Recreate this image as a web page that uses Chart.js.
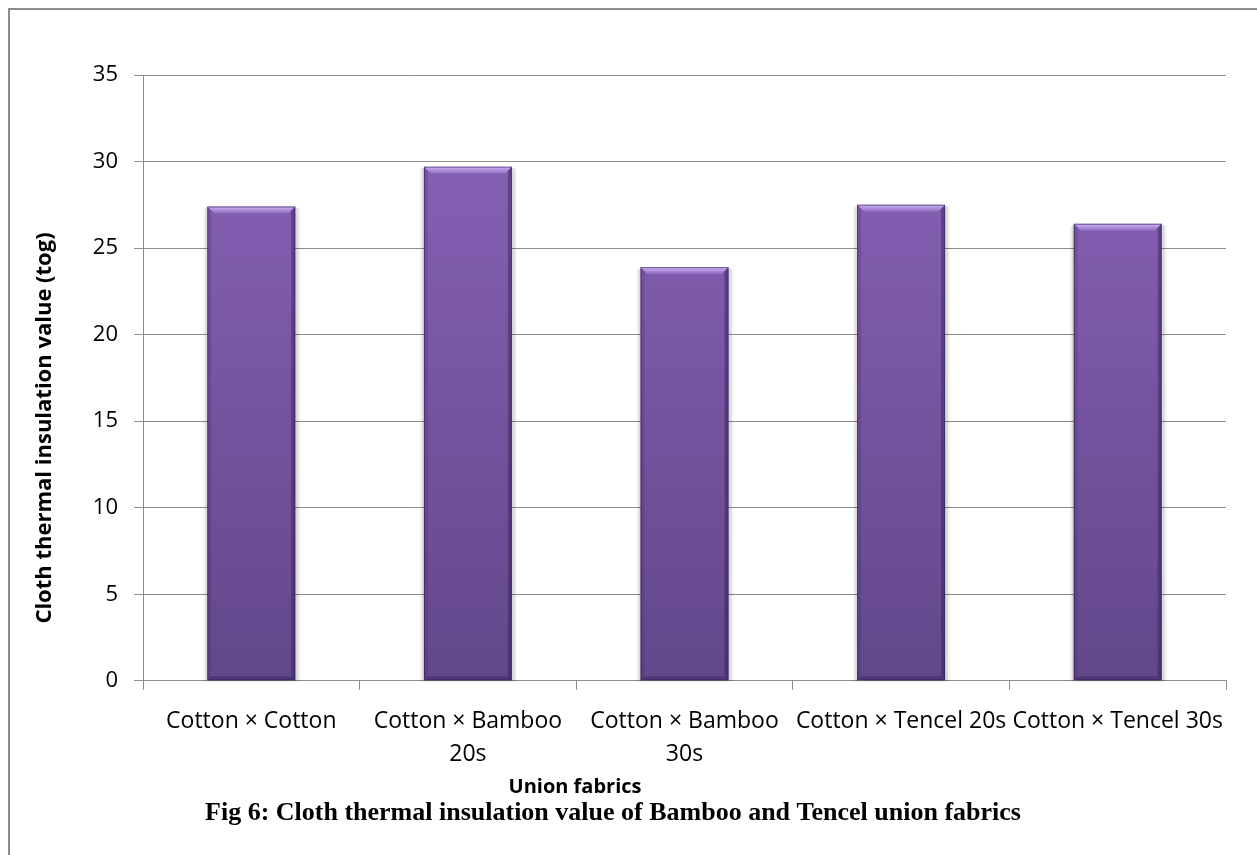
<!DOCTYPE html>
<html>
<head>
<meta charset="utf-8">
<script src="https://cdn.jsdelivr.net/npm/chart.js@4"></script>
<style>
  html, body { margin: 0; padding: 0; background: #fff; }
  #wrap { position: relative; width: 1257px; height: 855px; overflow: hidden; }
  #frame { position: absolute; left: 8px; top: 8px; width: 1300px; height: 900px; border-left: 2px solid #8c8c8c; border-top: 2px solid #8c8c8c; box-sizing: border-box; }
  canvas { position: absolute; left: 0; top: 0; }
</style>
</head>
<body>
<div id="wrap">
  <div id="frame"></div>
  <canvas id="c" width="1257" height="855"></canvas>
</div>
<script>
const categories = [
  "Cotton × Cotton",
  ["Cotton × Bamboo", "20s"],
  ["Cotton × Bamboo", "30s"],
  "Cotton × Tencel 20s",
  "Cotton × Tencel 30s"
];
const insulationValues = [27.4, 29.7, 23.9, 27.5, 26.4];
const yTicks = [0, 5, 10, 15, 20, 25, 30, 35];
const yAxisTitle = "Cloth thermal insulation value (tog)";
const xAxisTitle = "Union fabrics";
const caption = "Fig 6: Cloth thermal insulation value of Bamboo and Tencel union fabrics";

const labelFont = "'Open Sans', 'Noto Sans', sans-serif";

function barGradient(ctx) {
  const chart = ctx.chart;
  const area = chart.chartArea;
  if (!area) return '#7a57a6';
  const g = chart.ctx.createLinearGradient(0, area.top, 0, area.bottom);
  g.addColorStop(0, '#8a64ba');
  g.addColorStop(1, '#62478a');
  return g;
}

const bevelPlugin = {
  id: 'bevel',
  beforeDatasetsDraw(chart) {
    const ctx = chart.ctx;
    const meta = chart.getDatasetMeta(0);
    ctx.save();
    meta.data.forEach(bar => {
      const w = bar.width, x0 = bar.x - w / 2, top = bar.y, base = bar.base;
      ctx.fillStyle = 'rgba(0,0,0,0.10)';
      ctx.fillRect(x0 - 2, top + 1, w + 5, base - top);
      ctx.fillStyle = 'rgba(0,0,0,0.05)';
      ctx.fillRect(x0 - 4, top + 2, w + 9, base - top - 1);
    });
    ctx.restore();
  },
  afterDatasetsDraw(chart) {
    const ctx = chart.ctx;
    const meta = chart.getDatasetMeta(0);
    ctx.save();
    meta.data.forEach(bar => {
      const w = bar.width, x0 = bar.x - w / 2, x1 = bar.x + w / 2, top = bar.y, base = bar.base;
      const b = 7;
      const tg = ctx.createLinearGradient(0, top, 0, top + b);
      tg.addColorStop(0, '#c8b0ee');
      tg.addColorStop(0.45, '#b394e0');
      tg.addColorStop(1, '#8d68bd');
      ctx.fillStyle = tg;
      ctx.beginPath();
      ctx.moveTo(x0, top); ctx.lineTo(x1, top); ctx.lineTo(x1 - b, top + b); ctx.lineTo(x0 + b, top + b); ctx.closePath();
      ctx.fill();
      ctx.fillStyle = 'rgba(60,35,95,0.20)';
      ctx.beginPath();
      ctx.moveTo(x0, top); ctx.lineTo(x0 + 4, top + 4); ctx.lineTo(x0 + 4, base - 4); ctx.lineTo(x0, base); ctx.closePath();
      ctx.fill();
      ctx.fillStyle = 'rgba(40,20,70,0.38)';
      ctx.beginPath();
      ctx.moveTo(x1, top); ctx.lineTo(x1 - 4, top + 4); ctx.lineTo(x1 - 4, base - 4); ctx.lineTo(x1, base); ctx.closePath();
      ctx.fill();
      ctx.fillStyle = 'rgba(40,20,70,0.32)';
      ctx.beginPath();
      ctx.moveTo(x0, base); ctx.lineTo(x0 + 4, base - 4); ctx.lineTo(x1 - 4, base - 4); ctx.lineTo(x1, base); ctx.closePath();
      ctx.fill();
      ctx.strokeStyle = 'rgba(50,30,80,0.55)';
      ctx.lineWidth = 1;
      ctx.strokeRect(x0 + 0.5, top + 0.5, w - 1, base - top - 1);
    });
    ctx.restore();
  }
};

// Axis titles placed as in the reference (offset from the plot-area centre)
const axisTitlePlugin = {
  id: 'axisTitles',
  afterDraw(chart) {
    const ctx = chart.ctx;
    ctx.save();
    ctx.fillStyle = '#000';
    ctx.textAlign = 'center';
    ctx.textBaseline = 'middle';
    ctx.font = "bold 20px " + labelFont;
    ctx.fillText(xAxisTitle, 575, 787);
    ctx.translate(45, 428);
    ctx.rotate(-Math.PI / 2);
    ctx.font = "bold 22px " + labelFont;
    ctx.fillText(yAxisTitle, 0, 0);
    ctx.restore();
  }
};

new Chart(document.getElementById('c'), {
  type: 'bar',
  data: {
    labels: categories,
    datasets: [{
      data: insulationValues,
      backgroundColor: barGradient,
      borderWidth: 0,
      categoryPercentage: 1.0,
      barPercentage: 0.406
    }]
  },
  options: {
    responsive: false,
    animation: false,
    devicePixelRatio: 1,
    layout: { padding: { left: 0, right: 31, top: 75, bottom: 26 } },
    plugins: {
      legend: { display: false },
      tooltip: { enabled: false },
      title: {
        display: true,
        position: 'bottom',
        text: caption,
        color: '#000',
        font: { family: "'Liberation Serif', 'Times New Roman', serif", size: 26, weight: 'bold', lineHeight: 1.2 },
        padding: { top: 6, bottom: 0 }
      }
    },
    scales: {
      x: {
        offset: true,
        afterFit(axis) { axis.height = 111; },
        grid: { offset: true, drawOnChartArea: false, drawTicks: true, tickLength: 9, color: '#8c8c8c' },
        border: { display: true, color: '#8c8c8c', width: 1 },
        ticks: {
          color: '#000',
          font: { family: labelFont, size: 23, lineHeight: 1.4 },
          padding: 16,
          maxRotation: 0,
          minRotation: 0,
          autoSkip: false
        },
        title: { display: false }
      },
      y: {
        min: 0,
        max: 35,
        afterFit(axis) { axis.width = 143; },
        afterBuildTicks(axis) { axis.ticks = yTicks.map(v => ({ value: v })); },
        grid: { color: '#8c8c8c', tickLength: 9, drawTicks: true },
        border: { display: true, color: '#8c8c8c', width: 1 },
        ticks: {
          color: '#000',
          font: { family: labelFont, size: 22 },
          padding: 16
        },
        title: { display: false }
      }
    }
  },
  plugins: [bevelPlugin, axisTitlePlugin]
});
</script>
</body>
</html>
